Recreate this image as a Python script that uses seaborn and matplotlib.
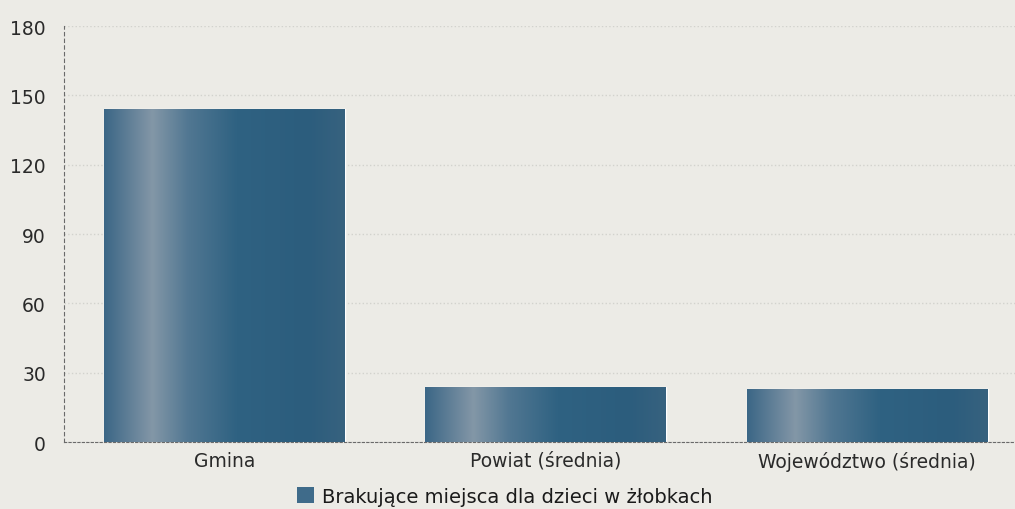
import matplotlib
matplotlib.use('Agg')
import matplotlib.pyplot as plt
import numpy as np
import pandas as pd
import seaborn as sns
from matplotlib.colors import LinearSegmentedColormap
from matplotlib.patches import Patch

categories = ['Gmina', 'Powiat (średnia)', 'Województwo (średnia)']
values = [144, 24, 23]
series_name = 'Brakujące miejsca dla dzieci w żłobkach'
yticks = [0, 30, 60, 90, 120, 150, 180]

bg = '#ecebe6'
bar_base = '#2f6282'

sns.set_style("white")
plt.rcParams['font.family'] = ['DejaVu Sans']

df = pd.DataFrame({'kategoria': categories, 'wartosc': values})

fig = plt.figure(figsize=(10.15, 5.1), dpi=100)
fig.patch.set_facecolor(bg)
ax = fig.add_axes([0.063, 0.131, 0.937, 0.816])
ax.set_facecolor(bg)

sns.barplot(data=df, x='kategoria', y='wartosc', color=bar_base, width=0.75,
            saturation=1, ax=ax, zorder=2)

# cylinder-like shading on every bar
cmap = LinearSegmentedColormap.from_list('cyl', [
    (0.0, '#3b6686'), (0.2, '#8397a7'), (0.35, '#517792'),
    (0.55, '#2f6282'), (0.85, '#2c5d7d'), (1.0, '#37627f')])
grad = np.linspace(0, 1, 256).reshape(1, -1)
for p in ax.patches:
    x0, y0 = p.get_x(), p.get_y()
    w, h = p.get_width(), p.get_height()
    im = ax.imshow(grad, cmap=cmap, aspect='auto', extent=[x0, x0 + w, y0, y0 + h],
                   zorder=3, interpolation='bicubic')
    im.set_clip_path(p)

ax.set_xlim(-0.5, 2.46)
ax.set_ylim(0, 180)
ax.set_yticks(yticks)
ax.yaxis.grid(True, color='#d2d2cd', linestyle=':', linewidth=1.0, zorder=0)
ax.set_axisbelow(True)
ax.tick_params(axis='both', length=0, labelsize=13.5, colors='#2a2a2a')
ax.tick_params(axis='y', pad=13)
ax.tick_params(axis='x', pad=6)
ax.set_xlabel('')
ax.set_ylabel('')
for s in ['top', 'right']:
    ax.spines[s].set_visible(False)
ax.spines['left'].set_color('#6a6a6a')
ax.spines['left'].set_linestyle((0, (3, 3)))
ax.spines['left'].set_linewidth(0.8)
ax.spines['bottom'].set_color('#6a6a6a')
ax.spines['bottom'].set_linestyle((0, (2, 2)))
ax.spines['bottom'].set_linewidth(0.8)

handle = Patch(facecolor='#3f6b8a', edgecolor='none')
fig.legend([handle], [series_name], loc='center', bbox_to_anchor=(0.497, 0.025),
           frameon=False, fontsize=14, handlelength=0.9, handleheight=0.9,
           handletextpad=0.4, labelcolor='#1a1a1a')

fig.savefig('out.png', dpi=100, facecolor=bg)
